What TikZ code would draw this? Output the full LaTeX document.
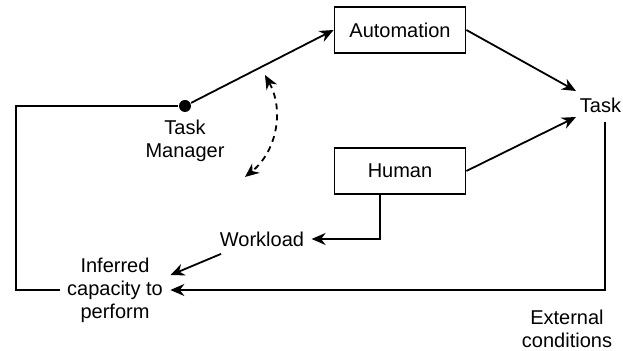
\documentclass[tikz,border=0pt]{standalone}
\usepackage{fontspec}
\setmainfont{Liberation Sans}
\usetikzlibrary{arrows.meta}

\begin{document}
\begin{tikzpicture}[x=0.5pt,y=-0.5pt,>={Stealth[length=7pt,width=6pt]},
  line width=0.9pt,font=\fontsize{10}{11.5}\selectfont,
  box/.style={draw,minimum width=65.5pt,minimum height=23pt},
  dot/.style={circle,fill,inner sep=0pt,minimum size=6pt},
  txt/.style={align=center}]

  \useasboundingbox (0,0) rectangle (623,351);

  \node[box] (auto) at (400,30) {Automation};
  \node[box] (human) at (400,171) {Human};
  \node[anchor=west,inner sep=0pt] (task) at (579,105) {Task};
  \node[dot] (tm) at (185,106) {};
  \node[txt] (tmlabel) at (185,141) {Task\\Manager};
  \node (work) at (262,239) {Workload};
  \node[txt] (cap) at (115,290) {Inferred\\capacity to\\perform};
  \node[txt] (ext) at (567,329) {External\\conditions};

  % arrow ends near the task label and the loose dashed arrow
  \coordinate (tin1) at (576,91);
  \coordinate (tin2) at (576,117);
  \coordinate (tout) at (605,122);
  \coordinate (corner) at (16,106);
  \coordinate (ra) at (265,75);
  \coordinate (rb) at (245,177);

  \draw[->] (tm) -- (auto.west);
  \draw[->] (auto.east) -- (tin1);
  \draw[->] (human.east) -- (tin2);
  \draw[->] (tout) |- (cap.east);
  \draw (cap.west) -| (corner) -- (tm);
  \draw[->] ([xshift=-10pt]human.south) |- (work.east);
  \draw[->] (work.200) -- (cap.15);
  \draw[<->,dash pattern=on 3pt off 2.5pt] (ra) to[bend left=40] (rb);
\end{tikzpicture}
\end{document}
